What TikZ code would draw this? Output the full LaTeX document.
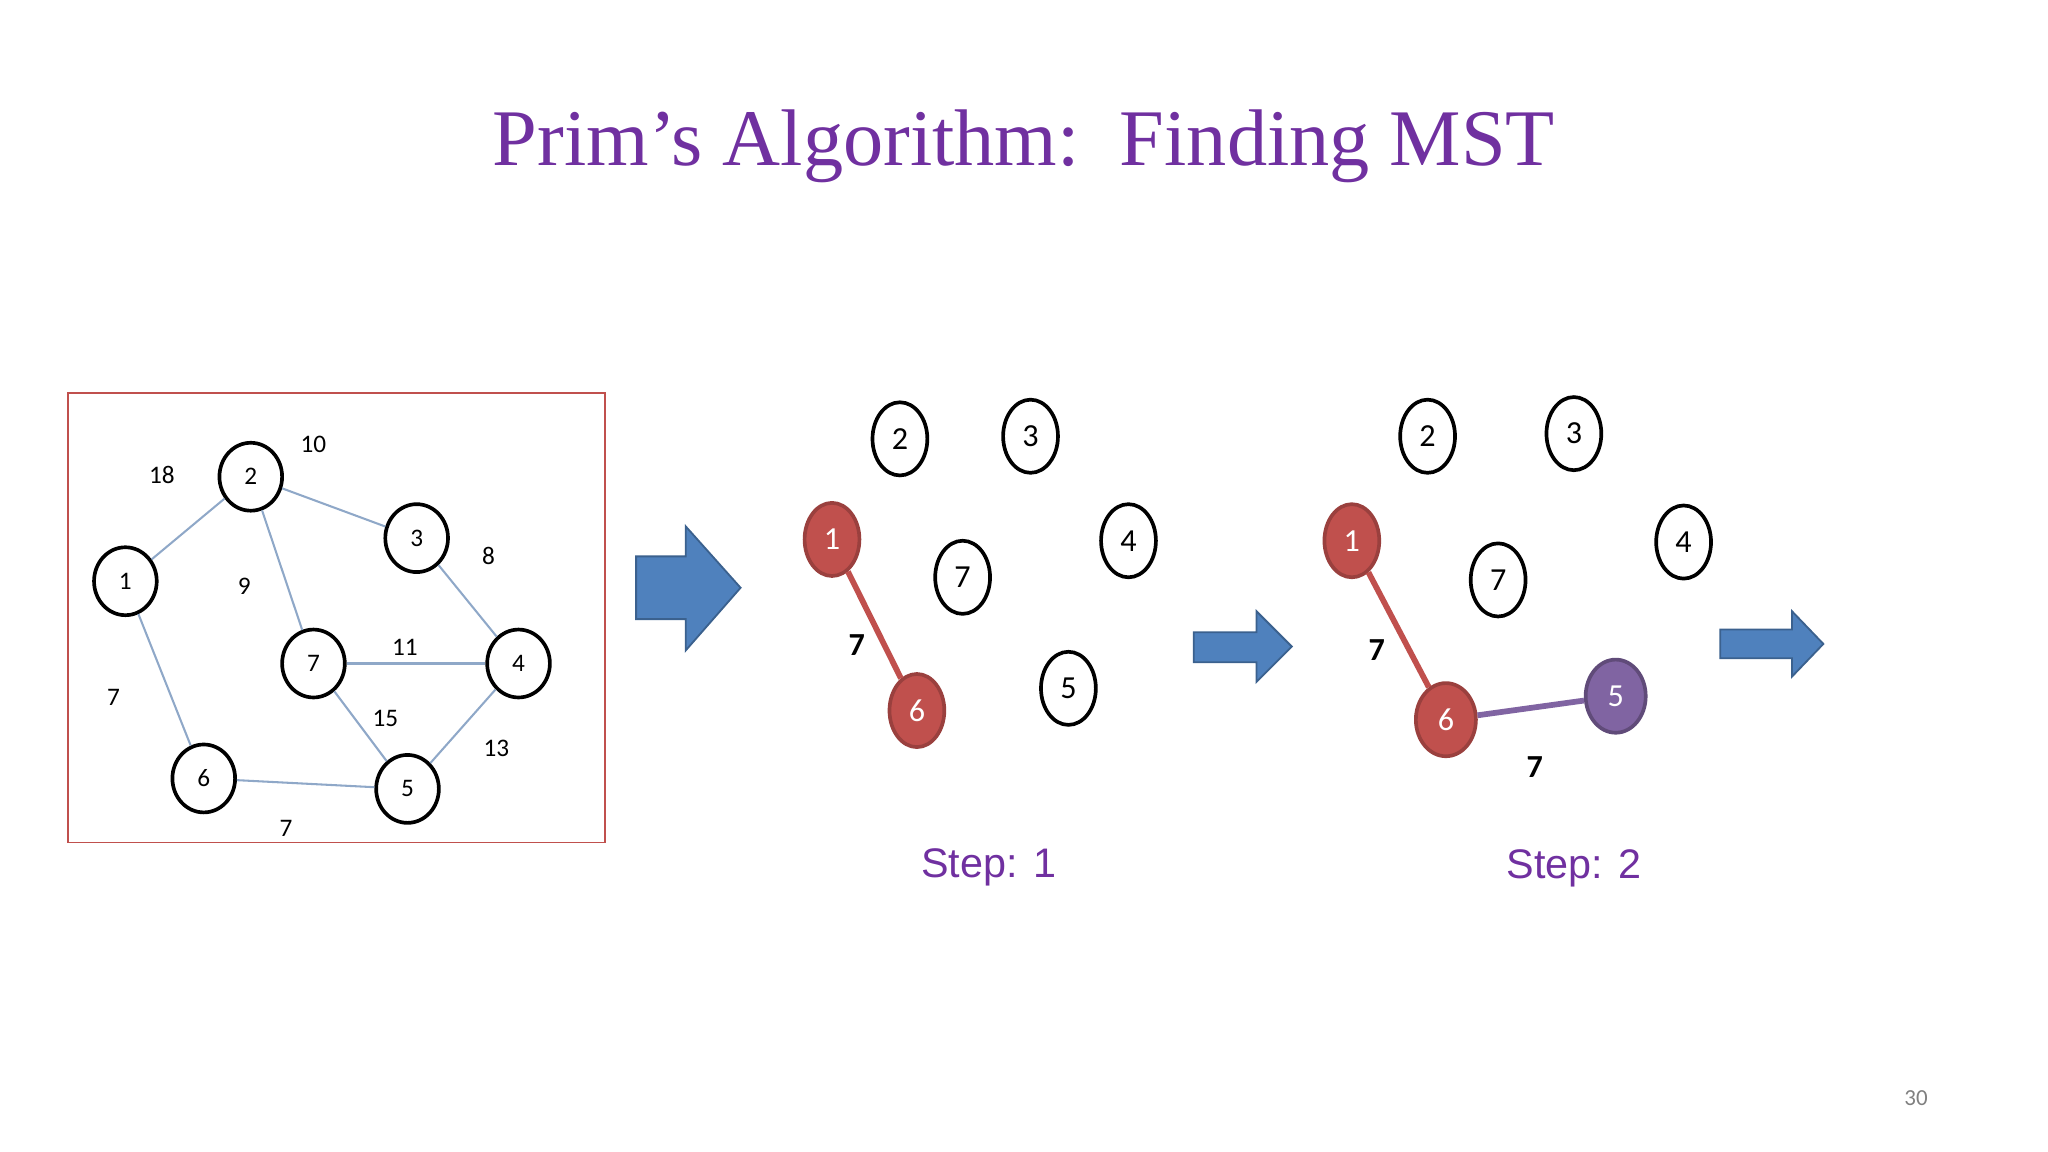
\documentclass[tikz,border=0pt]{standalone}
\usepackage{fontspec}
\setmainfont{Liberation Serif}
\newfontfamily\arialf{Liberation Sans}
\newfontfamily\carl{Carlito}
\usetikzlibrary{shapes.geometric,shapes.arrows}
\definecolor{ttl}{HTML}{7030A0}
\definecolor{edg}{HTML}{8FA8C8}
\definecolor{rd}{HTML}{C0504D}
\definecolor{pu}{HTML}{8064A2}
\definecolor{bl}{HTML}{4F81BD}
\tikzset{
 sv/.style={ellipse,draw=black,line width=1.6pt,minimum width=48*0.02cm,minimum height=52*0.02cm,inner sep=0pt,font=\carl\fontsize{11}{12}\selectfont},
 bv/.style={ellipse,draw=black,line width=1.6pt,minimum width=42*0.02cm,minimum height=56*0.02cm,inner sep=0pt,font=\carl\fontsize{14}{15}\selectfont},
 rv/.style={bv,draw=rd!80!black,fill=rd,text=white},
 pv/.style={bv,minimum width=46*0.02cm,draw=pu!75!black,fill=pu,text=white},
 ge/.style={edg,line width=0.9pt},
 gl/.style={font=\carl\fontsize{11}{12}\selectfont},
 bl7/.style={font=\carl\bfseries\fontsize{14}{15}\selectfont},
 steplbl/.style={text=ttl,font=\arialf\fontsize{18}{20}\selectfont},
 barrow/.style={draw=bl!75!black,fill=bl,line width=0.8pt}
}
\begin{document}
\begin{tikzpicture}[x=0.02cm,y=-0.02cm]
\useasboundingbox (0,0) rectangle (1568,882);
\node[text=ttl,font=\fontsize{35}{40}\selectfont] (title) at (784,112) {Prim's Algorithm:\ \ Finding MST};
% left graph
\draw[rd,line width=0.8pt] (52,301) rectangle (463,645);
\node[sv] (a1) at (96,445) {1};
\node[sv] (a2) at (192,365) {2};
\node[sv] (a3) at (319,412) {3};
\node[sv] (a4) at (397,508) {4};
\node[sv] (a7) at (240,508) {7};
\node[sv] (a6) at (156,596) {6};
\node[sv] (a5) at (312,604) {5};
\draw[ge] (a1)--(a2); \draw[ge] (a2)--(a3); \draw[ge] (a2)--(a7);
\draw[ge] (a3)--(a4); \draw[ge] (a7)--(a4); \draw[ge] (a7)--(a5);
\draw[ge] (a4)--(a5); \draw[ge] (a1)--(a6); \draw[ge] (a6)--(a5);
\node[gl] (l18) at (124,364) {18};
\node[gl] (l10) at (240,340) {10};
\node[gl] (l9) at (187,449) {9};
\node[gl] (l8) at (374,426) {8};
\node[gl] (l11) at (310,496) {11};
\node[gl] (l15) at (295,550) {15};
\node[gl] (l13) at (380,573) {13};
\node[gl] (l7a) at (87,534) {7};
\node[gl] (l7b) at (219,634) {7};
% arrows
\draw[barrow] (487,426)--(525,426)--(525,403)--(567,450)--(525,498)--(525,474)--(487,474)--cycle;
\draw[barrow] (914,484)--(962,484)--(962,468)--(989,495)--(962,522)--(962,507)--(914,507)--cycle;
\draw[barrow] (1317,482)--(1372,482)--(1372,468)--(1396,493)--(1372,518)--(1372,504)--(1317,504)--cycle;
% step 1
\node[bv] (b2) at (689,336) {2};
\node[bv] (b3) at (789,334) {3};
\node[bv] (b7) at (737,442) {7};
\node[bv] (b4) at (864,414) {4};
\node[bv] (b5) at (818,527) {5};
\node[rv] (b1) at (637,413) {1};
\node[rv] (b6) at (702,544) {6};
\draw[rd,line width=2.5pt] (b1)--(b6);
\node[bl7] (b7l) at (656,494) {7};
\node[steplbl] (s1) at (757,664) {Step: 1};
% step 2
\node[bv] (c2) at (1093,334) {2};
\node[bv] (c3) at (1205,332) {3};
\node[bv] (c7) at (1147,444) {7};
\node[bv] (c4) at (1289,415) {4};
\node[rv] (c1) at (1035,414) {1};
\node[rv,minimum width=46*0.02cm] (c6) at (1107,551) {6};
\node[pv] (c5) at (1237,533) {5};
\draw[rd,line width=2.5pt] (c1)--(c6);
\draw[pu,line width=2.5pt] (c6)--(c5);
\node[bl7] (c7a) at (1054,498) {7};
\node[bl7] (c7b) at (1175,587) {7};
\node[steplbl] (s2) at (1205,665) {Step: 2};
\node[text=gray,font=\carl\fontsize{10}{11}\selectfont] (pg) at (1467,841) {30};
\end{tikzpicture}
\end{document}
